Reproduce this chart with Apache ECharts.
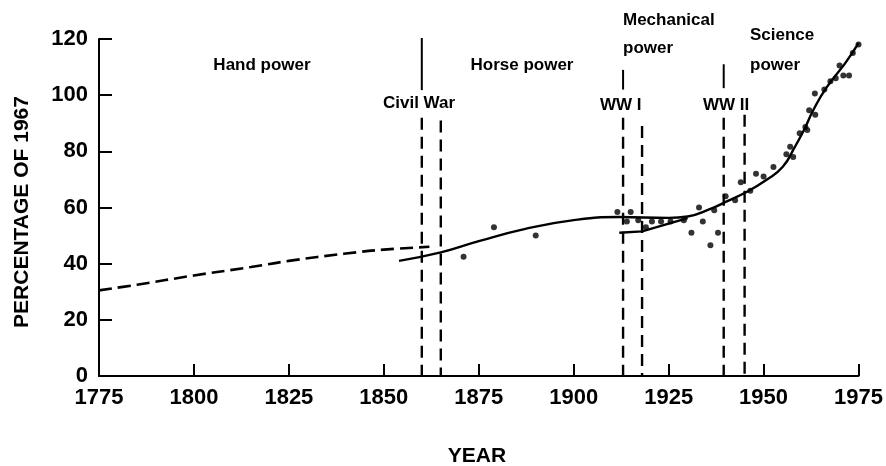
<!DOCTYPE html>
<html>
<head>
<meta charset="utf-8">
<script src="https://cdn.jsdelivr.net/npm/echarts@6/dist/echarts.min.js"></script>
<style>
  html, body { margin: 0; padding: 0; background: #fff; }
  #chart { width: 886px; height: 466px; }
</style>
</head>
<body>
<div id="chart"></div>
<script>
// axis ticks
var yearTicks = [1775, 1800, 1825, 1850, 1875, 1900, 1925, 1950, 1975];
var pctTicks = [0, 20, 40, 60, 80, 100, 120];

// hand power era (dashed estimate)
var handPower = [[1775, 30.5], [1785, 32.5], [1800, 35.8], [1815, 38.8], [1825, 41], [1840, 43.6], [1850, 45], [1862, 46]];

// fitted curve, 1854-1975
var fitCurve = [[1854, 41], [1865, 44], [1875, 48], [1887, 52.3], [1900, 55.5], [1912, 56.6],
  [1925, 56.3], [1930, 56.8], [1936, 59.5], [1940, 62], [1945.5, 65.5], [1950.7, 69.8], [1955, 74.4],
  [1958.2, 81.5], [1960.6, 87.5], [1963.1, 94.7], [1966.6, 102.8], [1971.5, 111.4], [1975, 118.5]];

// lower branch after WW I
var wwiBranch = [[1912, 51], [1918, 51.5], [1930, 56.2]];

// annual observations
var observed = [[1871, 42.5], [1879, 53], [1890, 50], [1911.5, 58.4], [1915, 58.4], [1914, 55], [1917, 55.5],
  [1919, 53], [1920.6, 55], [1923, 55], [1925.5, 55], [1929, 55.5], [1931, 51], [1933, 60], [1934, 55],
  [1936, 46.6], [1937, 59], [1938, 51], [1940, 64], [1942.5, 62.6], [1944, 69], [1946.5, 66], [1948, 72],
  [1950, 71], [1952.6, 74.4], [1956, 79], [1957, 81.6], [1957.8, 78], [1959.5, 86.4], [1961, 88.7],
  [1961.5, 87.6], [1962, 94.6], [1963.5, 100.6], [1963.6, 93], [1966, 102], [1967.6, 105], [1969, 106],
  [1970, 110.6], [1971, 107], [1972.5, 107], [1973.5, 115], [1975, 118], [1975.5, 112.5]];

// war markers: dashed drops to the axis
var eventYears = [1860, 1865, 1913, 1918, 1939.5, 1945];
var eventTops = [92, 91, 92, 89, 92, 93];
// short solid leads above the war labels
var leadYears = [1860, 1913, 1939.5];
var leadTops = [121, 109, 111];
var leadBottoms = [101.8, 102, 102.5];

var FONT = '"Liberation Sans", Arial, Helvetica, sans-serif';

var myChart = echarts.init(document.getElementById('chart'));

var series = [
  {
    type: 'line', data: handPower, smooth: 0.4, symbol: 'none',
    lineStyle: { color: '#000', width: 2.6, type: [13, 6] }
  },
  {
    type: 'line', data: fitCurve, smooth: 0.5, symbol: 'none',
    lineStyle: { color: '#000', width: 2.4 }
  },
  {
    type: 'line', data: wwiBranch, symbol: 'none',
    lineStyle: { color: '#000', width: 2.4 }
  },
  {
    type: 'scatter', data: observed, symbol: 'circle', symbolSize: 6,
    itemStyle: { color: '#000' }
  }
];

eventYears.forEach(function (yr, i) {
  series.push({
    type: 'line', data: [[yr, eventTops[i]], [yr, 0]], symbol: 'none',
    lineStyle: { color: '#000', width: 2.4, type: [12, 7] }
  });
});
leadYears.forEach(function (yr, i) {
  series.push({
    type: 'line', data: [[yr, leadTops[i]], [yr, leadBottoms[i]]], symbol: 'none',
    lineStyle: { color: '#000', width: 2 }
  });
});

function label(text, x, y, align) {
  return {
    type: 'text', x: x, y: y,
    style: {
      text: text, fill: '#000', font: 'bold 17px ' + FONT,
      textAlign: align || 'left', textVerticalAlign: 'middle', verticalAlign: 'middle'
    }
  };
}

option = {
  backgroundColor: '#fff',
  animation: false,
  grid: { left: 99, right: 27, top: 39, bottom: 90 },
  xAxis: {
    type: 'value', min: yearTicks[0], max: yearTicks[yearTicks.length - 1], interval: 25,
    axisLine: { lineStyle: { color: '#000', width: 2 } },
    axisTick: { inside: true, length: 12, lineStyle: { color: '#000', width: 2 } },
    axisLabel: { color: '#000', fontSize: 22, fontWeight: 'bold', fontFamily: FONT, margin: 11,
      formatter: function (v) { return String(v); } },
    splitLine: { show: false }
  },
  yAxis: {
    type: 'value', min: pctTicks[0], max: pctTicks[pctTicks.length - 1], interval: 20,
    axisLine: { show: true, lineStyle: { color: '#000', width: 2 } },
    axisTick: { show: true, inside: true, length: 13, lineStyle: { color: '#000', width: 2 } },
    axisLabel: { color: '#000', fontSize: 22, fontWeight: 'bold', fontFamily: FONT, margin: 11 },
    splitLine: { show: false }
  },
  graphic: [
    {
      type: 'text', x: 22, y: 212, rotation: Math.PI / 2,
      style: { text: 'PERCENTAGE OF 1967', fill: '#000', font: 'bold 21px ' + FONT,
        textAlign: 'center', textVerticalAlign: 'middle', verticalAlign: 'middle' }
    },
    {
      type: 'text', x: 477, y: 456,
      style: { text: 'YEAR', fill: '#000', font: 'bold 21px ' + FONT,
        textAlign: 'center', textVerticalAlign: 'middle', verticalAlign: 'middle' }
    },
    label('Hand power', 262, 65, 'center'),
    label('Horse power', 522, 65, 'center'),
    label('Mechanical', 623, 20),
    label('power', 623, 48),
    label('Science', 750, 35),
    label('power', 750, 65),
    label('Civil War', 383, 103),
    label('WW I', 600, 105),
    label('WW II', 703, 105)
  ],
  series: series
};

myChart.setOption(option);
</script>
</body>
</html>
